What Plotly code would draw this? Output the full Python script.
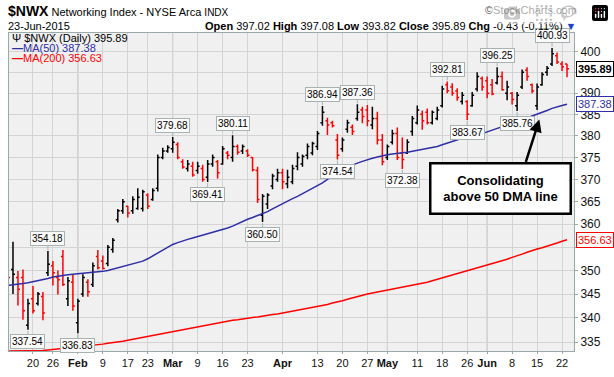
import math
import pandas as pd
import plotly.graph_objects as go

# ---------------- data ----------------
holidays = ['2015-01-19', '2015-02-16', '2015-04-03', '2015-05-25']
dates = [d.strftime('%Y-%m-%d') for d in pd.bdate_range('2015-01-12', '2015-06-23')
         if d.strftime('%Y-%m-%d') not in holidays]

opens = [350.5, 350.2, 348.5, 348.5, 338.5, 344.0, 343.0, 344.5, 349.5, 351.0,
         348.5, 353.0, 344.0, 347.5, 339.0, 345.0, 347.5, 347.0, 353.0, 352.0,
         351.5, 354.5, 361.0, 363.0, 364.0, 363.0, 363.5, 363.5, 366.5, 365.5,
         368.0, 375.0, 376.5, 377.0, 378.0, 374.0, 372.5, 373.0, 372.0, 372.5,
         370.5, 373.5, 374.0, 373.5, 376.0, 375.0, 377.5, 376.5, 376.5, 375.0,
         372.0, 362.0, 364.5, 368.5, 370.0, 371.5, 369.0, 369.5, 373.0, 373.5,
         375.5, 376.0, 377.5, 383.0, 383.5, 383.0, 379.0, 377.0, 381.5, 382.0,
         384.0, 386.0, 386.0, 382.5, 384.0, 379.0, 375.0, 378.5, 380.5, 376.0,
         376.0, 381.0, 383.0, 385.0, 385.5, 383.0, 384.0, 387.0, 392.0, 391.5,
         390.5, 388.0, 388.0, 387.0, 391.0, 393.5, 393.0, 392.0, 392.5, 394.0,
         390.0, 390.0, 387.0, 391.5, 395.5, 392.0, 387.0, 392.0, 395.0, 397.0,
         399.0, 397.0, 397.02]
highs = [351.5, 356.2, 349.9, 350.2, 344.0, 346.7, 345.4, 345.4, 354.18, 352.0,
         350.0, 354.4, 348.6, 349.2, 344.0, 349.2, 348.1, 351.7, 354.4, 353.2,
         355.5, 357.0, 363.4, 365.6, 364.1, 366.2, 368.0, 367.7, 366.9, 368.0,
         375.7, 377.2, 377.8, 379.68, 378.5, 374.6, 374.4, 374.0, 374.0, 373.3,
         374.4, 375.7, 374.4, 377.6, 376.5, 380.11, 378.0, 378.0, 376.9, 375.1,
         372.9, 366.7, 366.9, 371.3, 372.4, 372.4, 372.2, 373.3, 376.2, 375.7,
         378.2, 378.6, 381.1, 386.94, 384.2, 383.5, 380.4, 379.6, 383.7, 382.6,
         387.36, 386.8, 387.2, 386.8, 385.6, 380.4, 378.0, 381.4, 381.9, 379.6,
         379.2, 384.6, 387.1, 385.9, 386.4, 385.9, 386.8, 391.8, 392.81, 392.4,
         391.2, 390.3, 388.3, 390.3, 395.0, 394.0, 394.0, 393.4, 396.25, 395.2,
         393.0, 390.3, 390.3, 395.7, 396.2, 392.3, 392.3, 395.0, 396.5, 400.93,
         399.8, 397.7, 397.08]
lows = [347.0, 345.0, 342.6, 339.6, 337.54, 340.9, 342.6, 339.5, 348.8, 346.8,
        344.9, 346.7, 342.5, 341.5, 336.83, 344.4, 344.4, 346.5, 350.2, 350.2,
        350.9, 353.8, 360.4, 362.3, 361.5, 362.3, 363.2, 362.8, 363.4, 365.2,
        367.3, 374.6, 376.1, 376.1, 374.6, 372.4, 371.8, 370.6, 371.3, 369.5,
        369.41, 372.9, 370.2, 373.3, 374.6, 374.0, 375.6, 375.8, 375.1, 371.8,
        364.7, 360.50, 363.4, 367.8, 369.5, 367.8, 368.0, 368.9, 372.1, 372.9,
        374.6, 375.5, 376.7, 382.3, 380.2, 381.9, 374.54, 376.3, 380.7, 380.2,
        383.5, 382.9, 382.2, 381.5, 378.0, 373.2, 374.4, 378.0, 374.4, 372.38,
        375.8, 380.0, 382.6, 381.4, 382.6, 382.6, 383.6, 386.6, 390.0, 389.4,
        388.2, 387.3, 383.67, 386.8, 390.4, 390.6, 388.8, 389.5, 392.1, 390.6,
        388.3, 387.3, 385.76, 391.0, 393.0, 390.0, 386.0, 391.8, 394.2, 396.5,
        397.0, 395.3, 393.82]
closes = [348.5, 349.2, 346.0, 341.5, 343.0, 341.5, 345.0, 341.0, 351.3, 349.5,
          348.0, 347.0, 347.8, 342.5, 343.5, 348.5, 345.5, 351.0, 350.6, 350.4,
          355.0, 356.5, 363.0, 365.0, 362.5, 365.5, 366.0, 367.2, 364.0, 367.5,
          375.0, 376.5, 377.3, 378.5, 375.0, 372.8, 373.5, 371.0, 373.0, 370.0,
          373.5, 375.0, 371.5, 377.0, 375.5, 377.5, 376.2, 377.5, 375.5, 372.2,
          365.5, 366.2, 366.5, 370.8, 371.5, 369.5, 370.5, 372.5, 375.0, 375.2,
          377.5, 378.2, 380.5, 385.5, 382.5, 382.3, 375.5, 379.0, 383.0, 381.0,
          385.5, 384.5, 383.5, 384.0, 379.0, 374.0, 377.5, 380.5, 375.0, 374.5,
          378.5, 384.0, 386.0, 383.5, 383.0, 385.5, 386.0, 391.0, 390.6, 390.0,
          389.0, 389.5, 385.0, 389.5, 394.0, 391.5, 390.0, 389.8, 394.0, 390.8,
          391.5, 388.5, 389.5, 395.0, 394.0, 390.5, 391.5, 394.5, 396.0, 399.5,
          397.5, 396.32, 395.89]

ma50 = [346.8, 346.9, 347.1, 347.2, 347.4, 347.6, 347.8, 348.0, 348.3, 348.6,
        348.8, 349.0, 349.1, 349.2, 349.3, 349.3, 349.4, 349.5, 349.6, 349.8,
        350.0, 350.3, 350.6, 350.9, 351.1, 351.4, 351.7, 352.0, 352.5, 353.1,
        353.7, 354.3, 355.0, 355.6, 356.0, 356.4, 356.7, 357.0, 357.3, 357.6,
        357.9, 358.2, 358.5, 358.9, 359.2, 359.6, 360.1, 360.7, 361.1, 361.5,
        361.9, 362.3, 362.8, 363.4, 364.0, 364.6, 365.2, 365.7, 366.2, 366.8,
        367.4, 367.9, 368.5, 369.2, 370.0, 370.8, 371.5, 372.2, 372.8, 373.3,
        373.7, 374.1, 374.5, 374.8, 375.1, 375.4, 375.6, 375.8, 376.0, 376.1,
        376.2, 376.4, 376.6, 376.8, 377.0, 377.2, 377.5, 377.9, 378.3, 378.7,
        379.1, 379.4, 379.6, 379.9, 380.1, 380.5, 380.9, 381.3, 381.7, 382.1,
        382.4, 382.8, 383.2, 383.6, 384.1, 384.6, 385.0, 385.5, 385.9, 386.4,
        386.8, 387.1, 387.38]
ma200 = [333.2, 333.2, 333.2, 333.2, 333.2, 333.2, 333.2, 333.3, 333.4, 333.5,
         333.6, 333.7, 333.8, 333.9, 334.0, 334.1, 334.2, 334.3, 334.5, 334.6,
         334.8, 334.9, 335.1, 335.2, 335.4, 335.6, 335.8, 336.0, 336.2, 336.4,
         336.6, 336.8, 337.0, 337.2, 337.4, 337.5, 337.7, 337.9, 338.1, 338.3,
         338.5, 338.7, 338.9, 339.1, 339.3, 339.5, 339.6, 339.8, 339.9, 340.1,
         340.2, 340.4, 340.5, 340.7, 340.8, 341.0, 341.2, 341.3, 341.5, 341.7,
         341.9, 342.2, 342.4, 342.6, 342.8, 343.1, 343.3, 343.6, 343.9, 344.2,
         344.4, 344.7, 345.0, 345.2, 345.4, 345.6, 345.9, 346.1, 346.3, 346.5,
         346.7, 346.9, 347.1, 347.3, 347.5, 347.8, 348.1, 348.4, 348.7, 349.0,
         349.3, 349.6, 349.9, 350.2, 350.5, 350.8, 351.1, 351.4, 351.7, 352.0,
         352.4, 352.8, 353.1, 353.5, 353.9, 354.3, 354.6, 354.9, 355.2, 355.5,
         355.9, 356.3, 356.63]

tick_dates = ['2015-01-20', '2015-01-26', '2015-02-02', '2015-02-09', '2015-02-17',
              '2015-02-23', '2015-03-02', '2015-03-09', '2015-03-16', '2015-03-23',
              '2015-04-01', '2015-04-13', '2015-04-20', '2015-04-27', '2015-05-01',
              '2015-05-11', '2015-05-18', '2015-05-26', '2015-06-01', '2015-06-08',
              '2015-06-15', '2015-06-22']
tick_labels = ['20', '26', 'Feb', '9', '17', '23', 'Mar', '9', '16', '23', 'Apr', '13',
               '20', '27', 'May', '11', '18', '26', 'Jun', '8', '15', '22']
month_labels = ['Feb', 'Mar', 'Apr', 'May', 'Jun']

y_ticks = [335, 340, 345, 350, 355, 360, 365, 370, 375, 380, 385, 390, 395, 400]
y_hidden = [355, 395]   # labels covered by the value tags in the reference

# labelled swing highs / lows (date, kind)
swing_labels = [('2015-01-16', 'L'), ('2015-01-23', 'H'), ('2015-02-02', 'L'),
                ('2015-03-02', 'H'), ('2015-03-11', 'L'), ('2015-03-18', 'H'),
                ('2015-03-26', 'L'), ('2015-04-14', 'H'), ('2015-04-17', 'L'),
                ('2015-04-23', 'H'), ('2015-05-06', 'L'), ('2015-05-19', 'H'),
                ('2015-05-26', 'L'), ('2015-06-03', 'H'), ('2015-06-09', 'L'),
                ('2015-06-18', 'H')]

# ---------------- figure ----------------
N = len(dates)
assert N == len(opens) == len(highs) == len(lows) == len(closes) == len(ma50) == len(ma200)
xs = list(range(N))
idx_of = {d: i for i, d in enumerate(dates)}

up = [(closes[i] >= closes[i - 1]) if i > 0 else (closes[0] >= opens[0]) for i in range(N)]

fig = go.Figure()
BLACK = '#000000'
RED = '#FF0000'
BLUE = '#2E2EA6'
FONT = 'Liberation Sans, Arial, sans-serif'

for flag, col in ((True, BLACK), (False, RED)):
    sel = [i for i in xs if up[i] == flag]
    fig.add_trace(go.Ohlc(
        x=sel,
        open=[opens[i] for i in sel], high=[highs[i] for i in sel],
        low=[lows[i] for i in sel], close=[closes[i] for i in sel],
        increasing=dict(line=dict(color=col, width=1.5)),
        decreasing=dict(line=dict(color=col, width=1.5)),
        tickwidth=0.4, hoverinfo='skip', showlegend=False))

fig.add_trace(go.Scatter(x=xs, y=ma50, mode='lines', line=dict(color=BLUE, width=1.5),
                         hoverinfo='skip', showlegend=False))
fig.add_trace(go.Scatter(x=xs, y=ma200, mode='lines', line=dict(color=RED, width=1.5),
                         hoverinfo='skip', showlegend=False))

tick_idx = [idx_of[d] for d in tick_dates]
tick_text = [f'<b>{t}</b>' if t in month_labels else t for t in tick_labels]

AX = '#9AAAAA'
ymin, ymax = 333.2, 404.6
fig.update_layout(
    width=614, height=377,
    margin=dict(l=8, r=40, t=33, b=19),
    paper_bgcolor='white', plot_bgcolor='#F0F0F0',
    showlegend=False,
    font=dict(family=FONT, size=11, color='black'),
)
fig.update_xaxes(range=[0.2, 113.4], tickmode='array', tickvals=tick_idx, ticktext=tick_text,
                 showgrid=True, gridcolor='#D4D4D4', gridwidth=1,
                 ticks='outside', ticklen=2, tickcolor=AX,
                 showline=True, linecolor=AX, linewidth=1, mirror=True,
                 zeroline=False, rangeslider_visible=False, fixedrange=True,
                 tickfont=dict(size=11, color='#111'))
fig.update_yaxes(type='log', range=[math.log10(ymin), math.log10(ymax)], side='right',
                 tickmode='array', tickvals=y_ticks,
                 ticktext=['' if v in y_hidden else str(v) for v in y_ticks],
                 showgrid=True, gridcolor='#D4D4D4', gridwidth=1,
                 ticks='outside', ticklen=3, tickcolor=AX,
                 showline=True, linecolor=AX, linewidth=1, mirror=True,
                 zeroline=False, fixedrange=True,
                 tickfont=dict(size=12, color='#111'))

# darker month gridlines
for d, t in zip(tick_dates, tick_labels):
    if t in month_labels:
        fig.add_shape(type='line', x0=idx_of[d], x1=idx_of[d], y0=0, y1=1,
                      xref='x', yref='paper', line=dict(color='#B4B4B4', width=1), layer='below')

ann = []
# swing labels
for d, kind in swing_labels:
    i = idx_of[d]
    v = highs[i] if kind == 'H' else lows[i]
    ann.append(dict(x=i, y=math.log10(v), xref='x', yref='y', text=f'{v:.2f}',
                    showarrow=True, arrowhead=0, arrowwidth=1, arrowcolor='#A7B3B3',
                    ax=0, ay=-12 if kind == 'H' else 12, standoff=1,
                    font=dict(size=10, color='black'),
                    bgcolor='#FAFAFA', bordercolor='#A7B3B3', borderwidth=1, borderpad=1))

# right-hand value tags
for v, col, bold in ((closes[-1], BLACK, True), (ma50[-1], BLUE, False), (ma200[-1], RED, False)):
    txt = f'{v:.2f}'
    ann.append(dict(x=1, xref='paper', xanchor='left', xshift=2, y=math.log10(v), yref='y',
                    yanchor='middle', text=f'<b>{txt}</b>' if bold else txt, showarrow=False,
                    font=dict(size=11, color=col), bgcolor='white', bordercolor=col,
                    borderwidth=1, borderpad=1))


def px(X):
    return (X - 8) / 566.0


def py(Y):
    return (358 - Y) / 325.0


# header
ann.append(dict(x=px(5), y=py(10.5), xref='paper', yref='paper', xanchor='left', yanchor='middle',
                showarrow=False,
                text='<b><span style="font-size:14px">$NWX</span></b> Networking Index - NYSE Arca '
                     '<span style="font-size:10px">INDX</span>',
                font=dict(family=FONT, size=11, color='black')))
ann.append(dict(x=px(579), y=py(9), xref='paper', yref='paper', xanchor='right', yanchor='middle',
                showarrow=False, text='©StockCharts.com',
                font=dict(family=FONT, size=11, color='#555')))
ann.append(dict(x=px(5), y=py(25.5), xref='paper', yref='paper', xanchor='left', yanchor='middle',
                showarrow=False, text='23-Jun-2015',
                font=dict(family=FONT, size=11, color='black')))
chg = closes[-1] - closes[-2]
pct = chg / closes[-2] * 100
ann.append(dict(x=px(579), y=py(25.5), xref='paper', yref='paper', xanchor='right', yanchor='middle',
                showarrow=False,
                text=(f'<b>Open</b> {opens[-1]:.2f} <b>High</b> {highs[-1]:.2f} '
                      f'<b>Low</b> {lows[-1]:.2f} <b>Close</b> {closes[-1]:.2f} '
                      f'<b>Chg</b> {chg:.2f} ({pct:.2f}%) '
                      '<span style="color:#1F3FD0">▼</span>'),
                font=dict(family=FONT, size=11, color='black')))

# legend in plot
ann.append(dict(x=px(9), y=py(38.5), xref='paper', yref='paper', xanchor='left', yanchor='middle',
                showarrow=False, text=f'Ψ $NWX (Daily) {closes[-1]:.2f}',
                font=dict(size=11, color='black')))
ann.append(dict(x=px(9), y=py(48.5), xref='paper', yref='paper', xanchor='left', yanchor='middle',
                showarrow=False, text=f'<b>—</b>MA(50) {ma50[-1]:.2f}',
                font=dict(size=11, color=BLUE)))
ann.append(dict(x=px(9), y=py(58.5), xref='paper', yref='paper', xanchor='left', yanchor='middle',
                showarrow=False, text=f'<b>—</b>MA(200) {ma200[-1]:.2f}',
                font=dict(size=11, color=RED)))

# call-out arrow and box
ann.append(dict(x=(539.3 - 7) / 5.0, y=math.log10(383.8), xref='x', yref='y', text='',
                showarrow=True, arrowhead=2, arrowsize=1, arrowwidth=2.5, arrowcolor='black',
                ax=-14, ay=44))
ann.append(dict(x=px(500.5), y=py(192), xref='paper', yref='paper', xanchor='center',
                yanchor='middle', showarrow=False,
                text='<b>Consolidating<br>above 50 DMA line</b>',
                font=dict(family=FONT, size=13, color='black'),
                bgcolor='white', bordercolor='black', borderwidth=2.5, borderpad=2,
                width=134, height=44))

fig.update_layout(annotations=ann)
fig.write_html('out.html',
               post_script="document.body.style.margin='0';document.body.style.padding='0';")
